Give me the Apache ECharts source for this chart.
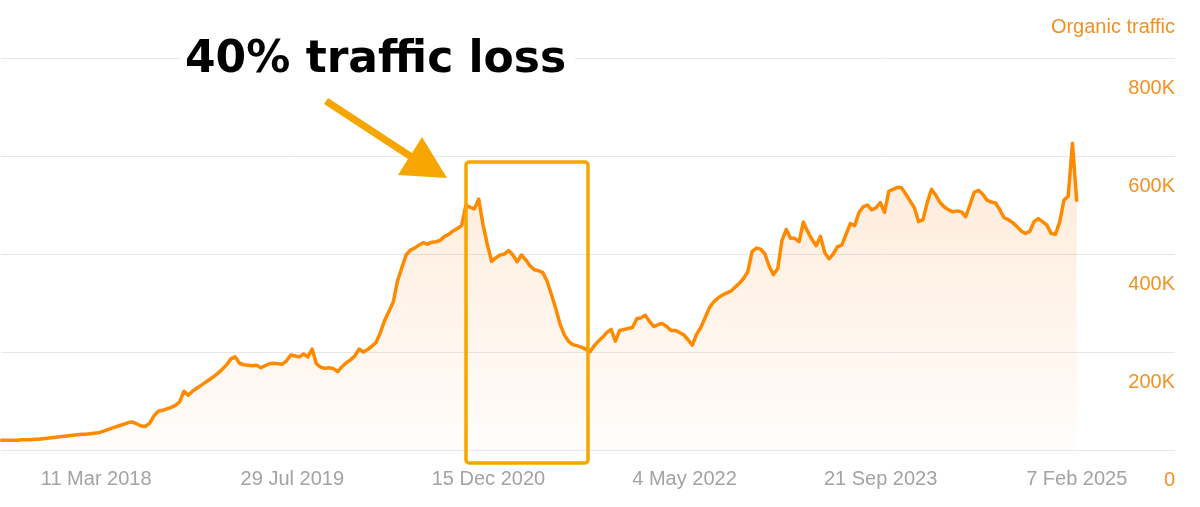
<!DOCTYPE html>
<html>
<head>
<meta charset="utf-8">
<script src="https://cdn.jsdelivr.net/npm/echarts@6/dist/echarts.min.js"></script>
<style>
html,body{margin:0;padding:0;background:#fff;}
#chart{width:1200px;height:507px;}
</style>
</head>
<body>
<div id="chart"></div>
<script>
// Organic traffic (thousands), one reading every 11 days, ending 7 Feb 2025
const firstDate = '2017-07-07';
const stepDays = 11;
const traffic = [
  20,20,20,20,20,21,21,21,22,22,
  23,24,25,26,27,28,29,30,31,32,
  32,33,34,35,38,41,44,47,50,53,
  56,57,53,49,48,55,70,79,81,84,
  87,91,98,120,112,120,126,132,138,144,
  150,157,165,174,186,190,177,174,173,172,
  173,168,172,176,177,176,175,182,194,192,
  190,196,190,206,176,169,167,168,166,160,
  170,178,184,192,206,200,205,212,220,240,
  265,283,302,345,372,398,408,412,418,423,
  420,424,425,428,436,440,447,452,458,500,
  495,492,512,460,420,385,392,398,400,407,
  398,384,398,388,376,368,366,362,345,318,
  290,258,236,222,215,213,210,206,200,212,
  222,230,240,246,222,244,246,248,250,268,
  270,275,262,252,256,258,252,244,244,240,
  235,225,214,236,250,270,290,302,310,316,
  320,324,332,340,350,364,405,412,410,400,
  375,358,370,428,450,432,432,425,465,446,
  430,417,436,403,390,400,415,418,440,462,
  458,484,496,500,490,494,505,485,528,532,
  536,535,522,508,494,466,470,505,532,520,
  505,496,490,486,488,486,476,500,526,530,
  522,510,506,504,490,474,470,464,456,447,
  442,446,466,472,466,459,442,440,465,510,
  518,626,507
];
const tickDates = ['2018-03-11','2019-07-29','2020-12-15','2022-05-04','2023-09-21','2025-02-07'];
const tickLabels = ['11 Mar 2018','29 Jul 2019','15 Dec 2020','4 May 2022','21 Sep 2023','7 Feb 2025'];
const yTicks = [0, 200, 400, 600, 800];
const axisStart = '2017-07-09';
const axisEnd = '2025-10-18';
const axisEpoch = '2016-10-22';   // day 0 of the x scale (day numbers used on the axis)

const DAY = 86400000;
const epoch = Date.parse(axisEpoch + 'T00:00:00Z');
const dayOf = d => Math.round((Date.parse(d + 'T00:00:00Z') - epoch) / DAY);
const d0 = dayOf(firstDate);
const seriesData = traffic.map((v, i) => [d0 + i * stepDays, v]);
const labelFor = {};
tickDates.forEach((d, i) => { labelFor[dayOf(d)] = tickLabels[i]; });

const chart = echarts.init(document.getElementById('chart'));
const orange = '#ff8a00';
const amber = '#f7a500';
const labelFont = 'Liberation Sans, Arial, sans-serif';
chart.setOption({
  animation: false,
  backgroundColor: '#ffffff',
  grid: { left: 0, right: 25, top: 58, bottom: 57, containLabel: false },
  xAxis: {
    type: 'value',
    min: dayOf(axisStart),          // 260, a multiple of the 5-day interval
    max: dayOf(axisEnd),
    interval: 5,
    axisLine: { show: false },
    axisTick: { show: false },
    splitLine: { show: false },
    axisLabel: {
      formatter: function (v) { return labelFor[Math.round(v)] || ''; },
      showMinLabel: false,
      showMaxLabel: false,
      color: '#a3a3a3',
      fontSize: 20,
      fontFamily: labelFont,
      margin: 19
    }
  },
  yAxis: {
    type: 'value',
    position: 'right',
    min: yTicks[0],
    max: yTicks[yTicks.length - 1],
    interval: 200,
    name: 'Organic traffic',
    nameLocation: 'end',
    nameGap: 31,
    nameTextStyle: {
      color: '#f39122', fontSize: 20, align: 'right', verticalAlign: 'middle',
      fontFamily: labelFont
    },
    axisLine: { show: false },
    axisTick: { show: false },
    splitLine: { show: true, lineStyle: { color: '#e8e8e8', width: 1 } },
    axisLabel: {
      inside: true,
      color: '#f39122',
      fontSize: 20,
      fontFamily: labelFont,
      verticalAlign: 'top',
      padding: [20, 0, 0, 0],
      margin: 0,
      formatter: function (v) { return v === 0 ? '0' : v + 'K'; }
    }
  },
  series: [{
    type: 'line',
    data: seriesData,
    symbol: 'none',
    smooth: false,
    lineStyle: { color: orange, width: 3.5, join: 'round' },
    itemStyle: { color: orange },
    areaStyle: {
      color: new echarts.graphic.LinearGradient(0, 0, 0, 1, [
        { offset: 0, color: 'rgba(252,140,40,0.26)' },
        { offset: 1, color: 'rgba(252,140,40,0.03)' }
      ])
    },
    z: 3
  }],
  graphic: [
    { type: 'rect', z: 100, shape: { x: 180, y: 38, width: 395, height: 40 }, style: { fill: '#ffffff' } },
    { type: 'text', z: 101, x: 185, y: 61,
      style: { text: '40% traffic loss', fill: '#000000', font: 'bold 44px "DejaVu Sans", sans-serif', verticalAlign: 'middle', align: 'left' } },
    { type: 'polygon', z: 101,
      shape: { points: [[328,98],[412,153],[422,137],[447,178],[398,175],[408,159],[324,104]] },
      style: { fill: amber } },
    { type: 'rect', z: 101,
      shape: { x: 466, y: 162, width: 122, height: 301, r: 3 },
      style: { fill: 'none', stroke: amber, lineWidth: 3.5 } }
  ]
});
</script>
</body>
</html>
